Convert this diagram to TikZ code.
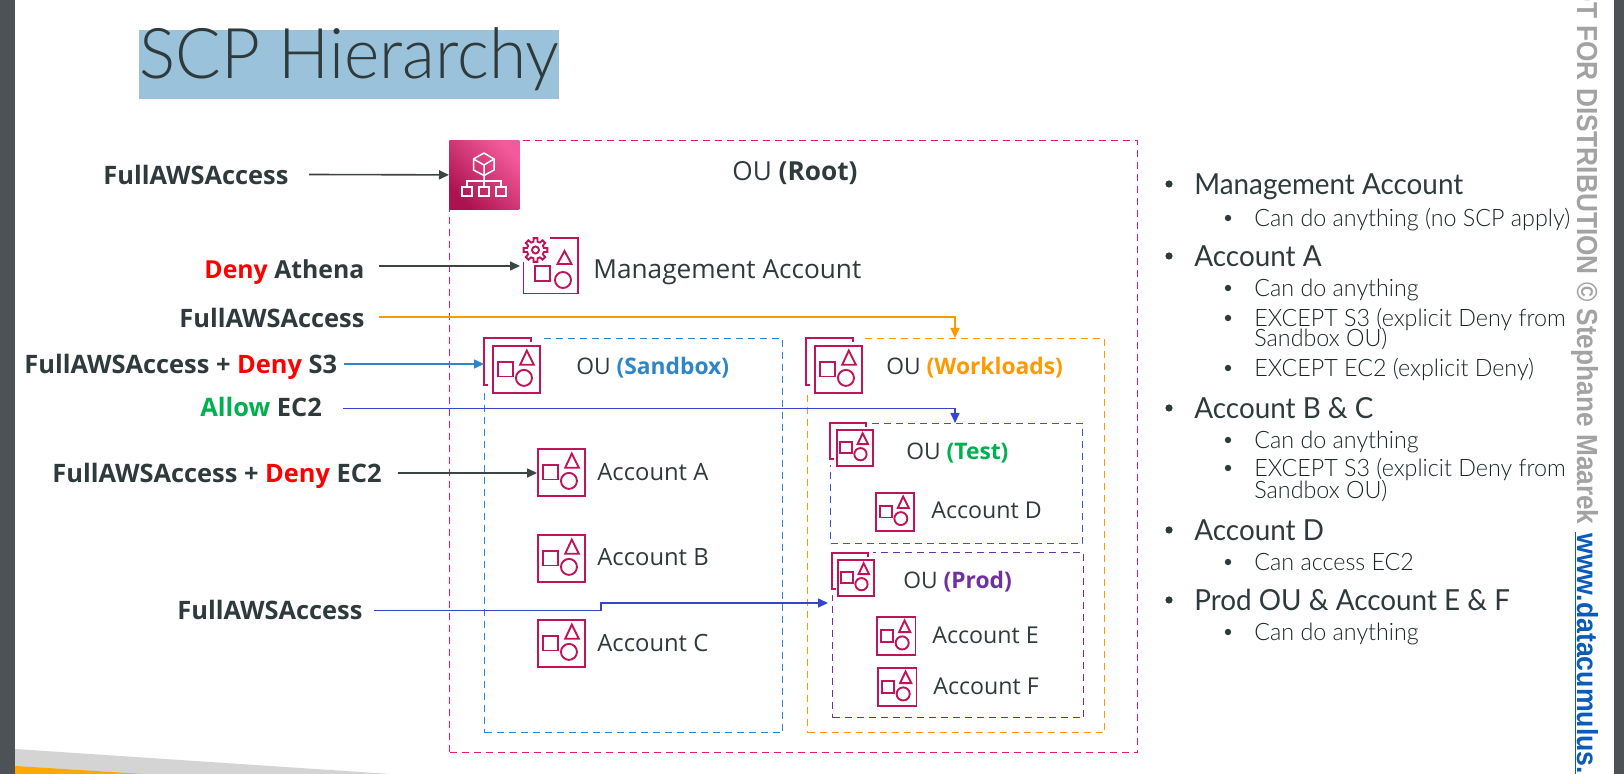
\documentclass[tikz,border=0pt]{standalone}
\usepackage{fontspec}
\usetikzlibrary{arrows.meta}
\setmainfont{Open Sans}
\newfontfamily\opensans{Open Sans}
\newfontfamily\gilltitle[UprightFont={* Light},FakeStretch=0.965]{Lato}
\newfontfamily\gillmain[FakeStretch=0.96]{Lato}
\newfontfamily\gillsub[UprightFont={* Light},FakeStretch=0.97]{Lato}
\newfontfamily\arialb[UprightFont={* Bold},FakeStretch=0.92]{Liberation Sans}
\newfontfamily\arialg[UprightFont={* Bold},FakeStretch=0.905]{Liberation Sans}
\definecolor{txt}{HTML}{2F3A3C}
\definecolor{txtdark}{HTML}{1A2628}
\definecolor{iconc}{HTML}{BF1459}
\definecolor{rootc}{HTML}{EE1470}
\definecolor{orangec}{HTML}{FF9900}
\definecolor{sandc}{HTML}{2E86C8}
\definecolor{bluec}{HTML}{3447C9}
\definecolor{testc}{HTML}{3F51D6}
\definecolor{purplec}{HTML}{7030A0}
\definecolor{greenc}{HTML}{00B050}
\definecolor{darkarrow}{HTML}{3C4444}
\definecolor{band}{HTML}{4D5256}
\definecolor{titlebgc}{HTML}{9BC2DB}
\definecolor{wedgegray}{HTML}{D4D4D4}
\definecolor{wedgeor}{HTML}{FFA800}
\definecolor{wmgray}{HTML}{A3A3A3}
\definecolor{urlblue}{HTML}{0B5CB8}
\tikzset{
  lbl/.style={inner sep=0pt,anchor=base west,text=txt,font=\opensans\fontsize{13.1}{15}\selectfont},
  oulbl/.style={inner sep=0pt,anchor=base west,text=txt,font=\opensans\fontsize{11.4}{14}\selectfont},
  acclbl/.style={inner sep=0pt,anchor=base west,text=txt,font=\opensans\fontsize{11.9}{14}\selectfont},
  acclbls/.style={inner sep=0pt,anchor=base west,text=txt,font=\opensans\fontsize{11.6}{14}\selectfont},
  blbl/.style={inner sep=0pt,anchor=base west,text=txt,font=\opensans\bfseries\fontsize{12.7}{15}\selectfont},
  mainb/.style={inner sep=0pt,anchor=base west,text=txt,font=\gillmain\fontsize{14.5}{17}\selectfont},
  subb/.style={inner sep=0pt,anchor=base west,text=txtdark,font=\gillsub\fontsize{12}{15}\selectfont},
  dbox/.style={draw,dash pattern=on 3.5pt off 2.5pt,line width=0.7pt,inner sep=0pt,anchor=north west},
  iconline/.style={draw=iconc,line width=0.95pt},
  conn/.style={line width=0.8pt,-{Triangle[length=5pt,width=4.5pt]}},
}
\newcommand\acct[4]{%
  \node[draw=iconc,line width=0.95pt,inner sep=0pt,anchor=north west,minimum size=#4*0.5pt,fill=white] (#1) at (#2,#3) {};
  \begin{scope}[shift={(#2,#3)}]
    \pgfmathsetlengthmacro\iu{#4*0.5pt}
    \begin{scope}[x=\iu,y=-\iu]
      \draw[iconline] (0.12,0.37) rectangle (0.44,0.67);
      \draw[iconline] (0.74,0.12) -- (0.89,0.42) -- (0.6,0.42) -- cycle;
      \draw[iconline] (0.68,0.70) circle[radius=0.17];
    \end{scope}
  \end{scope}}
\newcommand\ouicon[6]{%
  \fill[white] (#2-1,#3-1) rectangle (#4+#6,#5+#6);
  \draw[iconline] (#2+4,#3+#6) -- (#2,#3+#6) -- (#2,#3) -- (#2+#6,#3) -- (#2+#6,#3+4);
  \acct{#1}{#4}{#5}{#6}}
\newcommand\mainbul[3]{%
  \fill[txt] (1169,#2-11) circle[radius=3.6];
  \node[mainb] (#1) at (1194,#2) {#3};}
\newcommand\subbul[3]{%
  \fill[txt] (1228,#2-9) circle[radius=3.2];
  \node[subb] (#1) at (1254,#2) {#3};}
\begin{document}
\begin{tikzpicture}[x=0.5pt,y=-0.5pt]
\useasboundingbox (0,0) rectangle (1624,774);
\fill[white] (0,0) rectangle (1624,774);
% window chrome
\fill[band] (0,0) rectangle (15,774);
\fill[band] (1614,0) rectangle (1624,774);
\fill[wedgegray] (15,749) -- (390,774) -- (15,774) -- cycle;
\fill[wedgeor] (15,766) -- (143,774) -- (15,774) -- cycle;
% title
\node[inner sep=0pt,anchor=north west,minimum width=210pt,minimum height=34.5pt,fill=titlebgc] (titlebg) at (139,29.5) {};
\node[inner sep=0pt,anchor=base west,text=txt,font=\gilltitle\fontsize{35}{40}\selectfont] (title) at (139,79) {SCP Hierarchy};
% boxes
\node[dbox,draw=rootc,minimum width=344pt,minimum height=306pt] (rootbox) at (449,140) {};
\node[dbox,draw=sandc,minimum width=149pt,minimum height=197pt] (sandbox) at (484,338) {};
\node[dbox,draw=orangec,minimum width=148.5pt,minimum height=197pt] (workbox) at (807,338) {};
\node[dbox,draw=testc,minimum width=126pt,minimum height=60pt] (testbox) at (830,423) {};
\node[dbox,draw=purplec,minimum width=125.5pt,minimum height=82.5pt] (prodbox) at (832,552) {};
% root icon
\node[inner sep=0pt,anchor=north west,minimum width=35pt,minimum height=34.5pt,shade,bottom color=iconc!90!black,top color=rootc!70!white,shading angle=-45] (rooticon) at (449,140) {};
\begin{scope}[white,line width=0.75pt]
\draw (484,153) -- (494,159) -- (494,170) -- (484,175.5) -- (473.5,170) -- (473.5,159) -- cycle;
\draw (473.5,159) -- (484,165) -- (494,159) (484,165) -- (484,181);
\draw (467,187) -- (467,181) -- (501,181) -- (501,187) (484,181) -- (484,187);
\draw (462,187) rectangle (472,196);
\draw (479,187) rectangle (489,196);
\draw (496,187) rectangle (506,196);
\end{scope}
% management icon
\node[inner sep=0pt,anchor=north west,minimum width=27.5pt,minimum height=28pt] (mgmticon) at (523,238) {};
\draw[iconline] (550,238) -- (578,238) -- (578,293.5) -- (523.5,293.5) -- (523.5,262);
\draw[iconline] (535,266) rectangle (550,281);
\draw[iconline] (564.5,251) -- (571.5,264) -- (557.5,264) -- cycle;
\draw[iconline] (563,280) circle[radius=8];
\begin{scope}[shift={(535.5,250)}]
\draw[iconline,fill=white] (-14:8.6) \foreach \a in {0,45,...,315} { -- (\a-14:8.6) -- (\a-9:12) -- (\a+9:12) -- (\a+14:8.6)} -- cycle;
\draw[iconline] (0,0) circle[radius=3.5];
\end{scope}
% OU icons and accounts
\ouicon{sandicon}{484}{338}{492}{345}{47}
\ouicon{workicon}{806}{338}{814}{345}{47}
\ouicon{testicon}{830}{423}{836}{429}{36}
\ouicon{prodicon}{832}{553}{837}{559}{36}
\acct{accA}{537}{448}{47}
\acct{accB}{537}{534}{47}
\acct{accC}{537}{619}{47}
\acct{accD}{875}{492}{38}
\acct{accE}{876}{616}{38.5}
\acct{accF}{877}{667}{38.5}
% labels in diagram
\node[lbl] (lroot) at (732,181) {OU {\bfseries(Root)}};
\node[lbl] (lmgmt) at (593,279) {Management Account};
\node[oulbl] (lsand) at (576,375) {OU {\bfseries\color{sandc}(Sandbox)}};
\node[oulbl] (lwork) at (886,375) {OU {\bfseries\color{orangec}(Workloads)}};
\node[oulbl] (ltest) at (906,460) {OU {\bfseries\color{greenc}(Test)}};
\node[oulbl] (lprod) at (903,589) {OU {\bfseries\color{purplec}(Prod)}};
\node[acclbl] (lA) at (597,481) {Account A};
\node[acclbl] (lB) at (597,566) {Account B};
\node[acclbl] (lC) at (597,652) {Account C};
\node[acclbls] (lD) at (931,519) {Account D};
\node[acclbls] (lE) at (932,644) {Account E};
\node[acclbls] (lF) at (933,695) {Account F};
% left labels
\node[blbl] (p1) at (103,185) {FullAWSAccess};
\node[blbl,font=\opensans\bfseries\fontsize{12.4}{15}\selectfont] (p2) at (204,279) {\textcolor{red}{Deny} Athena};
\node[blbl] (p3) at (179,328) {FullAWSAccess};
\node[blbl] (p4) at (24,374) {FullAWSAccess + \textcolor{red}{Deny} S3};
\node[blbl] (p5) at (200,417) {\textcolor{greenc}{Allow} EC2};
\node[blbl] (p6) at (52,483) {FullAWSAccess + \textcolor{red}{Deny} EC2};
\node[blbl] (p7) at (177,620) {FullAWSAccess};
% connector starts
\coordinate (c1) at (309,174.5);
\coordinate (c2) at (379,266);
\coordinate (c3) at (379,317);
\coordinate (c4) at (344,364);
\coordinate (c5) at (343,408.5);
\coordinate (c6) at (398,473);
\coordinate (c7) at (374,610.5);
\coordinate (c7k) at (601,603);
\coordinate (wtop) at (955,338);
\draw[conn,darkarrow] (c1) -- (rooticon.west);
\draw[conn,darkarrow] (c2) -- ([xshift=-1.5pt]c2 -| mgmticon.west);
\draw[conn,orangec] (c3) -| (workbox.north -| wtop);
\draw[conn,sandc] (c4) -- (c4 -| sandbox.west);
\draw[conn,bluec] (c5) -| (testbox.north -| wtop);
\draw[conn,darkarrow] (c6) -- (c6 -| accA.west);
\draw[conn,bluec] (c7) -| (c7k) -- ([xshift=-2pt]c7k -| prodbox.west);
% bullet list
\mainbul{b1}{195}{Management Account}
\subbul{b2}{227}{Can do anything (no SCP apply)}
\mainbul{b3}{267}{Account A}
\subbul{b4}{297}{Can do anything}
\subbul{b5}{327}{EXCEPT S3 (explicit Deny from}
\node[subb] (b5b) at (1254,347) {Sandbox OU)};
\subbul{b6}{377}{EXCEPT EC2 (explicit Deny)}
\mainbul{b7}{419}{Account B \& C}
\subbul{b8}{449}{Can do anything}
\subbul{b9}{477}{EXCEPT S3 (explicit Deny from}
\node[subb] (b9b) at (1254,499) {Sandbox OU)};
\mainbul{b10}{541}{Account D}
\subbul{b11}{571}{Can access EC2}
\mainbul{b12}{611}{Prod OU \& Account E \& F}
\subbul{b13}{641}{Can do anything}
% watermark
\node[inner sep=0pt,anchor=base east,rotate=-90,text=wmgray,font=\arialg\fontsize{14.5}{17}\selectfont] (wm) at (1577,525) {OT FOR DISTRIBUTION © Stephane Maarek};
\node[inner sep=0pt,anchor=base west,rotate=-90,text=urlblue,font=\arialb\fontsize{14.5}{17}\selectfont] (url) at (1577,533) {www.datacumulus.};
\draw[urlblue,line width=0.5pt] (1575,532) -- (1575,774);
\end{tikzpicture}
\end{document}
